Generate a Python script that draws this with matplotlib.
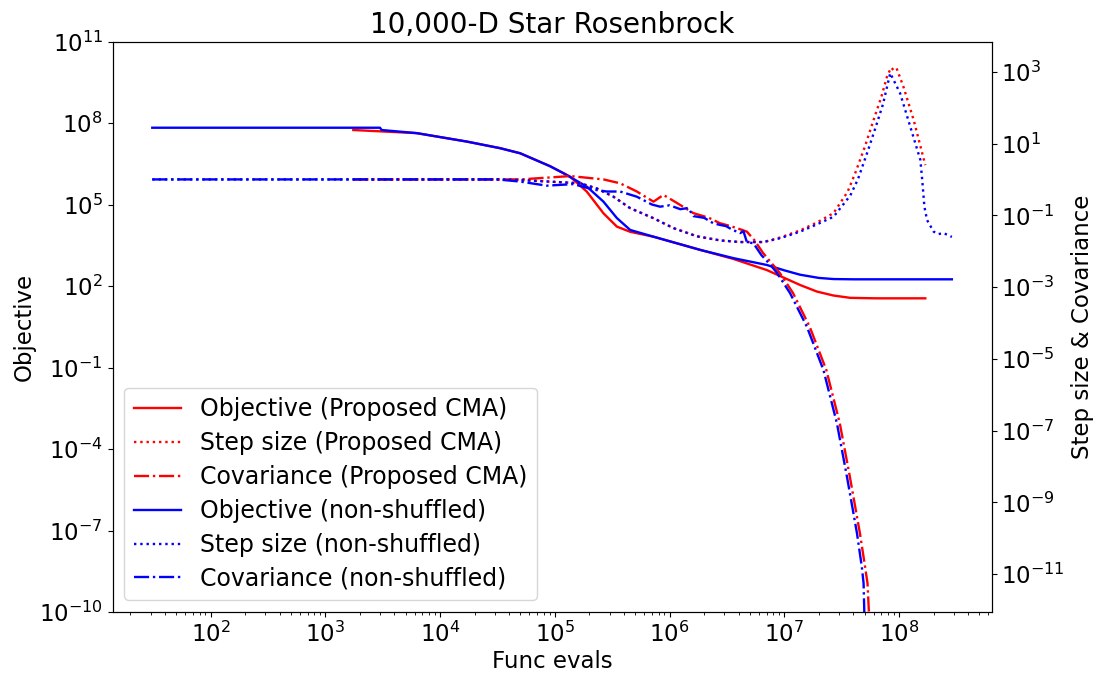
import matplotlib
matplotlib.use("Agg")
import matplotlib.pyplot as plt
from matplotlib.ticker import NullLocator, LogLocator

# ---------------- data ----------------
# Objective, non-shuffled (blue, solid, left axis)
obj_blue_x = [31, 2990, 3090, 6250, 1.71e4, 3.33e4, 4.98e4, 9.08e4, 1.19e5, 1.90e5,
              2.65e5, 3.47e5, 4.53e5, 7.23e5, 1.86e6, 3.60e6, 7.03e6, 1.0e7, 1.37e7,
              2.0e7, 2.68e7, 3.98e7, 2.88e8]
obj_blue_y = [6.8e7, 6.8e7, 5.6e7, 4.3e7, 2.1e7, 1.2e7, 7.8e6, 2.6e6, 1.43e6, 4.6e5,
              1.29e5, 3.2e4, 1.17e4, 6.6e3, 2.14e3, 1.07e3, 600, 380, 263,
              200, 182, 178, 178]

# Objective, proposed CMA (red, solid, left axis)
obj_red_x = [1750, 6250, 1.71e4, 3.33e4, 4.98e4, 9.08e4, 1.36e5, 1.90e5, 2.65e5, 3.47e5,
             4.53e5, 7.23e5, 1.86e6, 3.60e6, 7.03e6, 1.37e7, 1.92e7, 2.68e7, 3.75e7,
             6.31e7, 1.69e8]
obj_red_y = [5.6e7, 4.3e7, 2.1e7, 1.2e7, 7.8e6, 2.6e6, 1.07e6, 3.0e5, 4.8e4, 1.55e4,
             1.0e4, 6.6e3, 2.14e3, 1.0e3, 390, 110, 63, 45, 37,
             35.5, 35.5]

# Step size, non-shuffled (blue, dotted, right axis)
step_blue_x = [31, 3.16e4, 4.98e4, 1.66e5, 2.32e5, 3.24e5, 4.53e5, 7.23e5, 1.08e6, 1.73e6,
               2.75e6, 4.12e6, 6.58e6, 9.18e6, 1.37e7, 1.92e7, 2.68e7, 3.75e7, 4.37e7,
               5.37e7, 6.31e7, 7.24e7, 8.36e7, 1.02e8, 1.25e8, 1.53e8, 1.58e8, 1.66e8,
               1.75e8, 2.0e8, 2.2e8, 2.44e8, 2.88e8]
step_blue_y = [1.0, 1.0, 0.964, 0.78, 0.56, 0.33, 0.158, 0.083, 0.044, 0.026,
               0.020, 0.018, 0.018, 0.023, 0.035, 0.056, 0.091, 0.355, 1.0,
               6.6, 31.6, 126, 912, 251, 29.5, 3.5, 1.19, 0.174,
               0.074, 0.035, 0.030, 0.032, 0.025]

# Step size, proposed CMA (red, dotted, right axis)
step_red_x = [1750, 3.16e4, 4.98e4, 1.66e5, 2.32e5, 3.24e5, 4.53e5, 7.23e5, 1.08e6, 1.73e6,
              2.75e6, 4.12e6, 6.58e6, 9.18e6, 1.37e7, 1.92e7, 2.68e7, 3.55e7, 4.17e7,
              5.01e7, 5.98e7, 7.0e7, 7.83e7, 8.5e7, 8.93e7, 9.5e7, 1.09e8, 1.34e8, 1.69e8]
step_red_y = [1.0, 1.0, 0.964, 0.78, 0.56, 0.33, 0.158, 0.083, 0.044, 0.026,
              0.020, 0.018, 0.018, 0.024, 0.038, 0.063, 0.115, 0.447, 1.58,
              7.9, 44.7, 200, 724, 1300, 1120, 1250, 380, 44.7, 2.5]

# Covariance, non-shuffled (blue, dash-dot, right axis)
cov_blue_x = [31, 3.16e4, 4.98e4, 8.49e4, 1.45e5, 2.17e5, 2.83e5, 3.70e5, 5.18e5, 7.0e5,
              8.26e5, 1.0e6, 1.24e6, 1.45e6, 1.61e6, 2.0e6, 2.4e6, 2.75e6, 3.1e6, 3.5e6,
              4.12e6, 4.4e6, 4.71e6, 5.38e6, 6.3e6, 7.4e6, 8.61e6, 1.12e7, 1.57e7,
              2.19e7, 2.87e7, 3.51e7, 4.29e7, 4.73e7, 4.90e7, 4.97e7, 5.02e7]
cov_blue_y = [1.0, 1.0, 0.87, 0.67, 0.74, 0.52, 0.46, 0.46, 0.33, 0.20,
              0.174, 0.19, 0.148, 0.16, 0.095, 0.085, 0.060, 0.054, 0.050, 0.040,
              0.032, 0.036, 0.018, 0.0166, 0.0078, 0.0045, 0.0025, 6.8e-4, 7.9e-5,
              4.9e-6, 1.6e-7, 5.2e-9, 1.4e-10, 1.6e-11, 5.6e-12, 9.1e-13, 1e-13]

# Covariance, proposed CMA (red, dash-dot, right axis)
cov_red_x = [1750, 3.16e4, 4.98e4, 9.70e4, 1.36e5, 2.65e5, 3.70e5, 5.18e5, 7.23e5, 8.83e5,
             1.16e6, 1.61e6, 2.2e6, 2.75e6, 3.4e6, 4.2e6, 4.71e6, 5.5e6, 6.5e6, 7.8e6,
             9.1e6, 1.19e7, 1.66e7, 2.32e7, 3.04e7, 3.72e7, 4.55e7, 5.05e7, 5.3e7, 5.45e7, 5.5e7]
cov_red_y = [1.0, 1.0, 1.0, 1.15, 1.24, 1.0, 0.78, 0.46, 0.24, 0.37,
             0.22, 0.115, 0.085, 0.060, 0.050, 0.040, 0.035, 0.020, 0.009, 0.0045,
             0.0025, 6.8e-4, 7.9e-5, 4.9e-6, 1.6e-7, 5.2e-9, 1.4e-10, 1.6e-11, 5.6e-12,
             9.1e-13, 1e-13]

labels = ["Objective (Proposed CMA)", "Step size (Proposed CMA)", "Covariance (Proposed CMA)",
          "Objective (non-shuffled)", "Step size (non-shuffled)", "Covariance (non-shuffled)"]

# ---------------- figure ----------------
fig = plt.figure(figsize=(10.99, 6.76), dpi=100)
ax1 = fig.add_axes([0.1025, 0.0947, 0.7998, 0.8436])
ax2 = ax1.twinx()

lw = 1.7
h1, = ax1.plot(obj_red_x, obj_red_y, color="red", ls="-", lw=lw)
h2, = ax2.plot(step_red_x, step_red_y, color="red", ls=":", lw=lw)
h3, = ax2.plot(cov_red_x, cov_red_y, color="red", ls="-.", lw=lw)
h4, = ax1.plot(obj_blue_x, obj_blue_y, color="blue", ls="-", lw=lw)
h5, = ax2.plot(step_blue_x, step_blue_y, color="blue", ls=":", lw=lw)
h6, = ax2.plot(cov_blue_x, cov_blue_y, color="blue", ls="-.", lw=lw)

for ax in (ax1, ax2):
    ax.set_xscale("log")
    ax.set_yscale("log")
ax1.set_xlim(10**1.146, 10**8.806)
ax1.set_ylim(1e-10, 1e11)
ax2.set_ylim(10**-12.05, 10**3.836)

ax1.set_yticks([1e-10, 1e-7, 1e-4, 1e-1, 1e2, 1e5, 1e8, 1e11])
ax2.set_yticks([1e-11, 1e-9, 1e-7, 1e-5, 1e-3, 1e-1, 1e1, 1e3])
ax1.yaxis.set_minor_locator(NullLocator())
ax2.yaxis.set_minor_locator(NullLocator())
ax1.xaxis.set_major_locator(LogLocator(base=10, numticks=20))

fs = 16.5
ax1.tick_params(axis="both", labelsize=fs)
ax2.tick_params(axis="both", labelsize=fs)
ax1.set_xlabel("Func evals", fontsize=fs, labelpad=2)
ax1.set_ylabel("Objective", fontsize=fs, labelpad=2)
ax2.set_ylabel("Step size & Covariance", fontsize=fs)
ax1.set_title("10,000-D Star Rosenbrock", fontsize=20)

ax2.legend([h1, h2, h3, h4, h5, h6], labels, loc="lower left", fontsize=17,
           labelspacing=0.42)

fig.savefig("out.png", dpi=100)
